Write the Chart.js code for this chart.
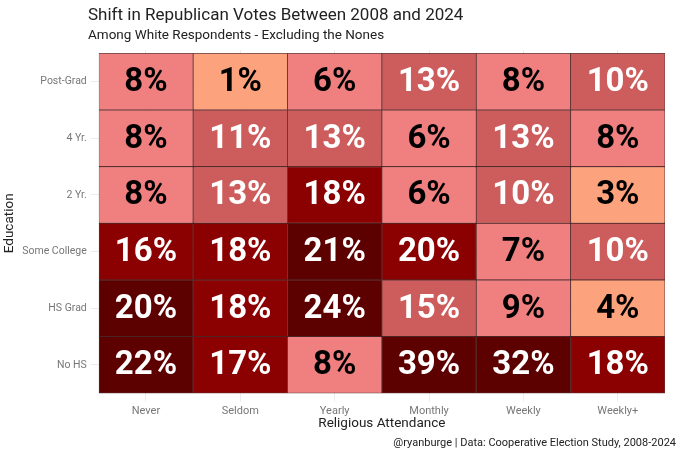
<!DOCTYPE html>
<html>
<head>
<meta charset="utf-8">
<script src="https://cdn.jsdelivr.net/npm/chart.js@4.4.1/dist/chart.umd.min.js"></script>
<style>
  html, body { margin: 0; padding: 0; background: #fff; }
  #wrap { width: 680px; height: 453px; }
</style>
</head>
<body>
<div id="wrap"><canvas id="heat"></canvas></div>
<script>
// Religious attendance categories (x axis)
const attendance = ['Never', 'Seldom', 'Yearly', 'Monthly', 'Weekly', 'Weekly+'];
// Education levels, bottom to top
const education = ['No HS', 'HS Grad', 'Some College', '2 Yr.', '4 Yr.', 'Post-Grad'];

// Shift in Republican vote share (percentage points), one array per education level
const noHS        = [22, 17, 8, 39, 32, 18];
const hsGrad      = [20.3, 18, 24, 14.8, 9, 4];
const someCollege = [16, 18, 21, 19.8, 7, 10.2];
const twoYr       = [8, 13, 18, 6, 10.2, 3];
const fourYr      = [8, 11, 13, 6, 13, 8];
const postGrad    = [8, 1, 6, 13, 8, 10.2];

const rows = [noHS, hsGrad, someCollege, twoYr, fourYr, postGrad];

const FONT = 'Roboto, "DejaVu Sans", sans-serif';

// binned fill colour
function fillFor(v) {
  if (v < 5) return '#fca27c';
  if (v < 10) return '#f08080';
  if (v < 15) return '#cd5c5c';
  if (v < 20) return '#8b0000';
  return '#5c0000';
}

const datasets = rows.map((vals, i) => ({
  label: education[i],
  data: vals.map(() => 1),
  pct: vals,
  backgroundColor: vals.map(fillFor),
  borderColor: 'rgba(45,0,0,0.75)',
  borderWidth: 0.8,
  borderSkipped: false,
  barPercentage: 1,
  categoryPercentage: 1
}));

// percent labels inside each tile
const cellLabels = {
  id: 'cellLabels',
  afterDatasetsDraw(chart) {
    const ctx = chart.ctx;
    ctx.save();
    ctx.font = 'bold 33px ' + FONT;
    ctx.textAlign = 'center';
    ctx.textBaseline = 'middle';
    chart.data.datasets.forEach((ds, di) => {
      chart.getDatasetMeta(di).data.forEach((bar, j) => {
        const v = ds.pct[j];
        ctx.fillStyle = v >= 10 ? '#ffffff' : '#000000';
        ctx.fillText(Math.round(v) + '%', bar.x, (bar.y + bar.base) / 2 + 1);
      });
    });
    ctx.restore();
  }
};

// titles and caption
const textBlocks = {
  id: 'textBlocks',
  afterDraw(chart) {
    const ctx = chart.ctx;
    ctx.save();
    ctx.fillStyle = '#222';
    ctx.textBaseline = 'alphabetic';
    ctx.textAlign = 'left';
    ctx.font = '17px ' + FONT;
    ctx.fillText('Shift in Republican Votes Between 2008 and 2024', 88, 20);
    ctx.font = '13.5px ' + FONT;
    ctx.fillText('Among White Respondents - Excluding the Nones', 88, 39);
    ctx.textAlign = 'right';
    ctx.font = '11px ' + FONT;
    ctx.fillText('@ryanburge | Data: Cooperative Election Study, 2008-2024', 676, 446);
    ctx.restore();
  }
};

new Chart(document.getElementById('heat'), {
  type: 'bar',
  data: { labels: attendance, datasets },
  options: {
    responsive: true,
    maintainAspectRatio: false,
    animation: false,
    layout: { padding: { top: 50, right: 15, bottom: 21, left: 2 } },
    plugins: {
      legend: { display: false },
      tooltip: { enabled: false }
    },
    scales: {
      x: {
        stacked: true,
        grid: { offset: false, color: '#ececec', tickColor: '#ececec', tickLength: 5, drawOnChartArea: true },
        border: { display: false },
        ticks: { color: '#777', font: { family: FONT, size: 11 }, padding: 3 },
        title: { display: true, text: 'Religious Attendance', color: '#222', font: { family: FONT, size: 13.5 }, padding: { top: -5, bottom: 0 } }
      },
      y: {
        stacked: true,
        min: -0.06,
        max: 6.06,
        afterBuildTicks(scale) {
          scale.ticks = education.map((_, i) => ({ value: i + 0.5 }));
        },
        grid: { color: '#ececec', tickColor: '#ececec', tickLength: 8 },
        border: { display: false },
        ticks: {
          color: '#777',
          font: { family: FONT, size: 10.5 },
          padding: 4,
          callback: (v) => education[Math.round(v - 0.5)]
        },
        title: { display: true, text: 'Education', color: '#222', font: { family: FONT, size: 13.5 }, padding: { top: 0, bottom: 0 } }
      }
    }
  },
  plugins: [cellLabels, textBlocks]
});
</script>
</body>
</html>
